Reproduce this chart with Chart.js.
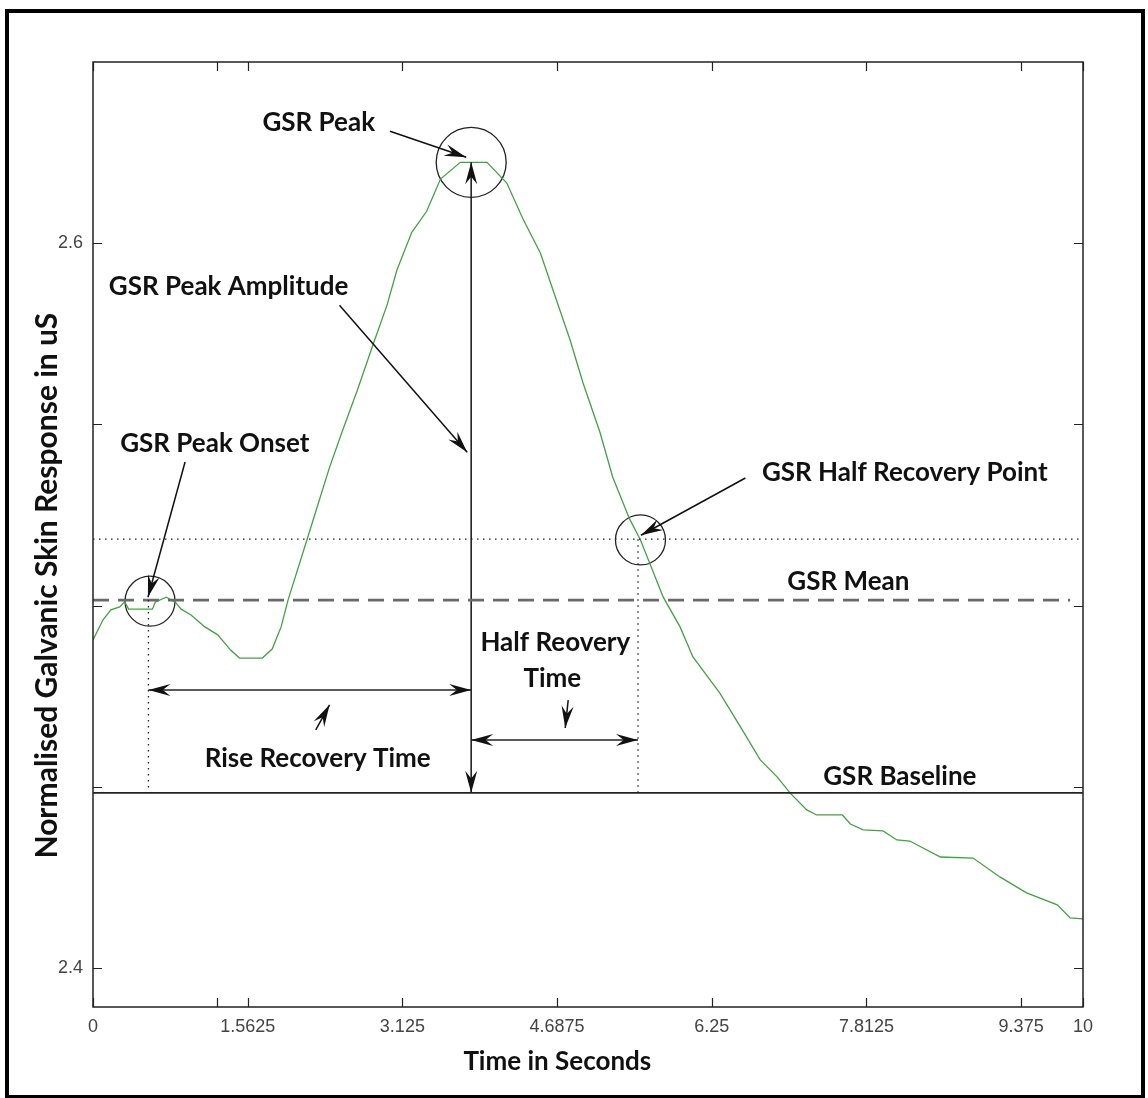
<!DOCTYPE html>
<html lang="en">
<head>
    <meta charset="UTF-8">
    <title>GSR Response</title>
    <script src="https://cdn.jsdelivr.net/npm/chart.js"></script>
    <style>
        html, body { margin: 0; padding: 0; background: #fff; }
        .wrap { position: relative; width: 1148px; height: 1098px; }
    </style>
</head>
<body>
    <div class="wrap"><canvas id="gsrChart"></canvas></div>
    <script>
        // signal (seconds, uS)
        const timeS = [0.00, 0.10, 0.18, 0.27, 0.32, 0.36, 0.60, 0.63, 0.74, 0.83, 0.89, 0.99,
            1.13, 1.26, 1.39, 1.48, 1.71, 1.81, 1.90, 1.97, 2.17, 2.39, 2.53, 2.67, 2.83, 2.97,
            3.07, 3.22, 3.37, 3.51, 3.71, 3.98, 4.18, 4.34, 4.52, 4.65, 4.82, 4.95, 5.12, 5.25,
            5.42, 5.53, 5.76, 5.93, 6.06, 6.33, 6.54, 6.74, 6.91, 7.04, 7.21, 7.31, 7.57, 7.65,
            7.78, 7.98, 8.12, 8.25, 8.56, 8.89, 9.16, 9.43, 9.74, 9.87, 10.00];
        const gsrUS = [2.4905, 2.4960, 2.4988, 2.4996, 2.5010, 2.4990, 2.4990, 2.5010, 2.5023, 2.5010, 2.4990, 2.4974,
            2.4941, 2.4919, 2.4877, 2.4855, 2.4855, 2.4880, 2.4941, 2.5015, 2.5189, 2.5382, 2.5490, 2.5594, 2.5721, 2.5829,
            2.5926, 2.6030, 2.6088, 2.6177, 2.6223, 2.6223, 2.6166, 2.6069, 2.5972, 2.5868, 2.5732, 2.5614, 2.5479, 2.5354,
            2.5239, 2.5181, 2.5023, 2.4941, 2.4858, 2.4759, 2.4665, 2.4574, 2.4527, 2.4483, 2.4436, 2.4422, 2.4422, 2.4397,
            2.4381, 2.4378, 2.4353, 2.4350, 2.4306, 2.4303, 2.4251, 2.4207, 2.4174, 2.4138, 2.4135];

        const xTicks = [0, 1.25, 1.5625, 3.125, 4.6875, 6.25, 7.8125, 9.375, 10];
        const xLabels = ['0', '', '1.5625', '3.125', '4.6875', '6.25', '7.8125', '9.375', '10'];
        const yTicks = [2.4, 2.45, 2.5, 2.55, 2.6];
        const yLabels = ['2.4', '', '', '', '2.6'];

        // feature levels / times
        const meanUS = 2.5015;
        const baselineUS = 2.4483;
        const halfRecUS = 2.5183;
        const peakUS = 2.6223;
        const peakT = 3.82;
        const onsetT = 0.56;
        const halfRecT = 5.505;
        const riseArrowUS = 2.4767;
        const halfArrowUS = 2.4629;

        // annotation texts [text, x, y] and pointer arrows [x1, y1, x2, y2] in data units
        const noteTexts = [
            ['GSR Peak', 2.28, 2.6334],
            ['GSR Peak Amplitude', 1.37, 2.5881],
            ['GSR Peak Onset', 1.23, 2.5448],
            ['GSR Half Recovery Point', 8.20, 2.5368],
            ['GSR Mean', 7.63, 2.5065],
            ['Half Reovery', 4.67, 2.4897],
            ['Time', 4.64, 2.4797],
            ['Rise Recovery Time', 2.27, 2.4577],
            ['GSR Baseline', 8.15, 2.4527]
        ];
        const noteArrows = [
            [3.00, 2.6309, 3.77, 2.6237],
            [2.49, 2.5829, 3.78, 2.5423],
            [0.93, 2.5396, 0.555, 2.5023],
            [6.59, 2.5352, 5.535, 2.5194],
            [2.25, 2.4657, 2.39, 2.4726],
            [4.80, 2.4739, 4.77, 2.4662]
        ];

        const curve = timeS.map((t, i) => ({ x: t, y: gsrUS[i] }));
        const seg = (x1, y1, x2, y2) => [{ x: x1, y: y1 }, { x: x2, y: y2 }];
        const lineDs = (data, color, width, dash) => ({
            data: data, borderColor: color, borderWidth: width, borderDash: dash || [],
            pointRadius: 0, fill: false, tension: 0
        });

        const noteFont = 'bold 26px Lato, "Open Sans", sans-serif';
        const tickFont = { family: '"Liberation Sans", Arial, sans-serif', size: 18 };

        function arrowHead(ctx, x1, y1, x2, y2, len, half) {
            const a = Math.atan2(y2 - y1, x2 - x1);
            const c = Math.cos(a), s = Math.sin(a);
            ctx.beginPath();
            ctx.moveTo(x2, y2);
            ctx.lineTo(x2 - len * c + half * s, y2 - len * s - half * c);
            ctx.lineTo(x2 - len * 0.65 * c, y2 - len * 0.65 * s);
            ctx.lineTo(x2 - len * c - half * s, y2 - len * s + half * c);
            ctx.closePath();
            ctx.fill();
        }

        const annotate = {
            id: 'annotate',
            afterDatasetsDraw(chart) {
                const { ctx, chartArea: a, scales: { x, y } } = chart;
                const px = v => x.getPixelForValue(v);
                const py = v => y.getPixelForValue(v);
                ctx.save();

                // axes box with inward ticks
                ctx.strokeStyle = '#222';
                ctx.lineWidth = 1.5;
                ctx.strokeRect(a.left, a.top, a.right - a.left, a.bottom - a.top);
                ctx.beginPath();
                xTicks.forEach(v => {
                    const p = Math.round(px(v)) + 0.5;
                    ctx.moveTo(p, a.bottom); ctx.lineTo(p, a.bottom - 9);
                    ctx.moveTo(p, a.top); ctx.lineTo(p, a.top + 9);
                });
                yTicks.forEach(v => {
                    const p = Math.round(py(v)) + 0.5;
                    ctx.moveTo(a.left, p); ctx.lineTo(a.left + 9, p);
                    ctx.moveTo(a.right, p); ctx.lineTo(a.right - 9, p);
                });
                ctx.lineWidth = 1.2;
                ctx.stroke();

                // arrow heads on measurement lines
                ctx.fillStyle = '#111';
                arrowHead(ctx, px(peakT), py(baselineUS), px(peakT), py(peakUS), 22, 6);
                arrowHead(ctx, px(peakT), py(peakUS), px(peakT), py(baselineUS), 22, 6);
                arrowHead(ctx, px(peakT), py(riseArrowUS), px(onsetT), py(riseArrowUS), 22, 6);
                arrowHead(ctx, px(onsetT), py(riseArrowUS), px(peakT), py(riseArrowUS), 22, 6);
                arrowHead(ctx, px(halfRecT), py(halfArrowUS), px(peakT), py(halfArrowUS), 22, 6);
                arrowHead(ctx, px(peakT), py(halfArrowUS), px(halfRecT), py(halfArrowUS), 22, 6);

                // pointer arrows
                ctx.strokeStyle = '#111';
                ctx.lineWidth = 1.5;
                noteArrows.forEach(([x1, y1, x2, y2]) => {
                    ctx.beginPath();
                    ctx.moveTo(px(x1), py(y1));
                    ctx.lineTo(px(x2), py(y2));
                    ctx.stroke();
                    arrowHead(ctx, px(x1), py(y1), px(x2), py(y2), 22, 6);
                });

                // labels
                ctx.font = noteFont;
                ctx.fillStyle = '#111';
                ctx.textAlign = 'center';
                ctx.textBaseline = 'middle';
                noteTexts.forEach(([t, tx, ty]) => ctx.fillText(t, px(tx), py(ty)));

                // axis titles
                ctx.fillText('Time in Seconds', px(4.69), 1062);
                ctx.save();
                ctx.translate(47, py(2.5055));
                ctx.rotate(-Math.PI / 2);
                ctx.font = 'bold 30px Lato, "Open Sans", sans-serif';
                ctx.fillText('Normalised Galvanic Skin Response in uS', 0, 0);
                ctx.restore();

                // outer frame
                ctx.strokeStyle = '#000';
                ctx.lineWidth = 4;
                ctx.strokeRect(7, 11, 1136, 1086);
                ctx.restore();
            }
        };

        const ctx = document.getElementById('gsrChart').getContext('2d');
        new Chart(ctx, {
            type: 'line',
            data: {
                datasets: [
                    lineDs(seg(0, halfRecUS, 10, halfRecUS), '#222', 1.3, [1.5, 4.5]),
                    lineDs(seg(onsetT, meanUS, onsetT, baselineUS), '#222', 1.3, [1.5, 4.5]),
                    lineDs(seg(halfRecT, halfRecUS, halfRecT, baselineUS), '#222', 1.3, [1.5, 4.5]),
                    lineDs(seg(0, meanUS, 9.87, meanUS), '#6a6a6a', 2.6, [16, 9]),
                    lineDs(seg(0, baselineUS, 10, baselineUS), '#222', 1.6),
                    lineDs(seg(peakT, baselineUS, peakT, peakUS), '#222', 1.6),
                    lineDs(seg(onsetT, riseArrowUS, peakT, riseArrowUS), '#222', 1.6),
                    lineDs(seg(peakT, halfArrowUS, halfRecT, halfArrowUS), '#222', 1.6),
                    lineDs(curve, '#45a045', 1.3),
                    {
                        type: 'scatter',
                        data: [{ x: 0.576, y: 2.5012 }, { x: 3.82, y: peakUS }, { x: 5.53, y: 2.5181 }],
                        pointRadius: [25, 35, 25],
                        pointBorderColor: '#222',
                        pointBackgroundColor: 'rgba(0,0,0,0)',
                        pointBorderWidth: 1.3,
                        showLine: false
                    }
                ]
            },
            options: {
                responsive: true,
                maintainAspectRatio: false,
                animation: false,
                layout: { padding: { left: 0, top: 62, right: 65, bottom: 0 } },
                plugins: { legend: { display: false }, tooltip: { enabled: false } },
                scales: {
                    x: {
                        type: 'linear',
                        min: 0,
                        max: 10,
                        grid: { display: false, drawTicks: false },
                        border: { display: false },
                        afterBuildTicks: s => { s.ticks = xTicks.map(v => ({ value: v })); },
                        afterFit: s => { s.height = 91; },
                        ticks: {
                            autoSkip: false,
                            maxRotation: 0,
                            padding: 9,
                            color: '#444',
                            font: tickFont,
                            callback: (v, i) => xLabels[i]
                        }
                    },
                    y: {
                        min: 2.3892,
                        max: 2.65,
                        grid: { display: false, drawTicks: false },
                        border: { display: false },
                        afterBuildTicks: s => { s.ticks = yTicks.map(v => ({ value: v })); },
                        afterFit: s => { s.width = 93; },
                        ticks: {
                            autoSkip: false,
                            padding: 10,
                            color: '#444',
                            font: tickFont,
                            callback: (v, i) => yLabels[i]
                        }
                    }
                }
            },
            plugins: [annotate]
        });
    </script>
</body>
</html>
